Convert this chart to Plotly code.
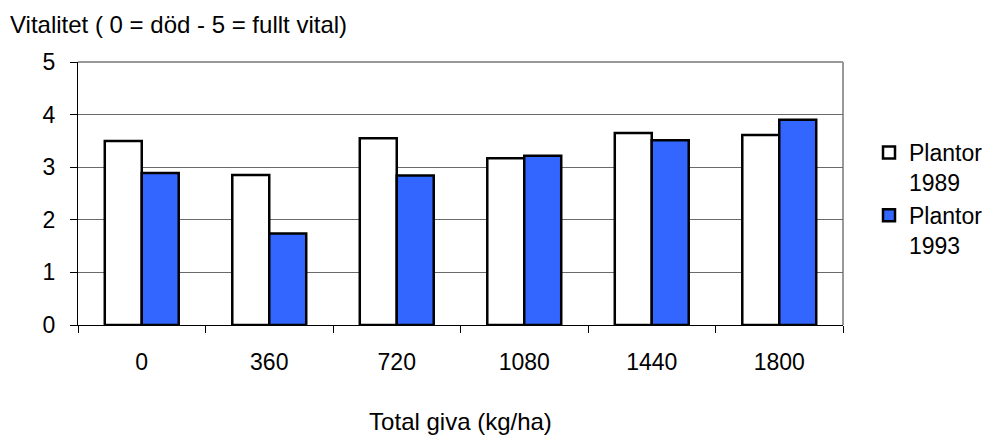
import plotly.graph_objects as go

categories = ["0", "360", "720", "1080", "1440", "1800"]
plantor_1989 = [3.50, 2.85, 3.55, 3.17, 3.65, 3.61]
plantor_1993 = [2.89, 1.74, 2.84, 3.22, 3.51, 3.90]
series_names = ["Plantor<br>1989", "Plantor<br>1993"]
y_ticks = [0, 1, 2, 3, 4, 5]

FONT = "Arial, Liberation Sans, sans-serif"
FS = 23
FT = 24

fig = go.Figure()
fig.add_trace(go.Bar(
    x=categories, y=plantor_1989, name=series_names[0], legendgroup="a",
    marker=dict(color="#FFFFFF", line=dict(color="#000000", width=2.5)),
))
fig.add_trace(go.Bar(
    x=categories, y=plantor_1993, name=series_names[1], legendgroup="b",
    marker=dict(color="#3366FF", line=dict(color="#000000", width=2.5)),
))

fig.update_layout(
    width=982, height=435,
    margin=dict(l=78, r=139, t=62, b=110, autoexpand=False),
    paper_bgcolor="white", plot_bgcolor="white",
    font=dict(family=FONT, size=FS, color="#000000"),
    barmode="group", bargap=0.42, bargroupgap=0,
    showlegend=True,
    legend=dict(x=869/982, xref="container", xanchor="left",
                y=1 - 131/435, yref="container", yanchor="top",
                valign="top", tracegroupgap=0,
                font=dict(family=FONT, size=FS, color="#000000"),
                bgcolor="rgba(0,0,0,0)"),
    xaxis=dict(
        type="category", showline=True, linecolor="#000000", linewidth=1,
        ticks="outside", tickson="boundaries", ticklen=7, tickcolor="#000000",
        showgrid=False, ticklabelstandoff=16, automargin=False,
        title=dict(text="Total giva (kg/ha)", standoff=42,
                   font=dict(family=FONT, size=FT)),
    ),
    yaxis=dict(
        range=[0, 5], tickvals=y_ticks, showline=True, linecolor="#000000",
        linewidth=1, ticks="outside", ticklen=7, tickcolor="#000000",
        showgrid=True, gridcolor="#6a6a6a", gridwidth=1, automargin=False,
        zeroline=False, ticklabelstandoff=10,
    ),
    shapes=[dict(type="line", xref="paper", yref="paper", x0=1, x1=1, y0=0, y1=1,
                 line=dict(color="#999999", width=2), layer="below"),
            dict(type="line", xref="paper", yref="paper", x0=0, x1=1, y0=1, y1=1,
                 line=dict(color="#999999", width=2), layer="below")],
    annotations=[dict(text="Vitalitet ( 0 = död - 5 = fullt vital)", xref="paper", yref="paper",
                      x=-78/765, xanchor="left", y=1 + 22/263, yanchor="bottom", showarrow=False,
                      xshift=8, font=dict(family=FONT, size=FT))],
)

fig.write_html("out.html")
